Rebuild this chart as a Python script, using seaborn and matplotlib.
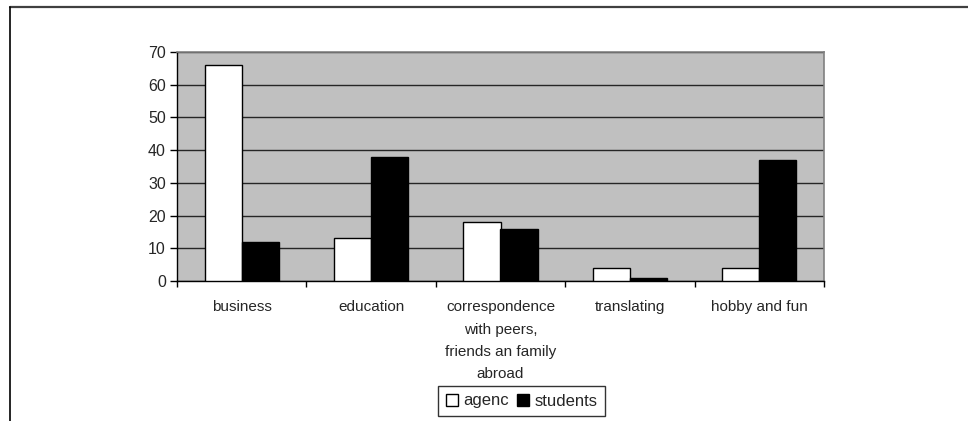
import matplotlib
matplotlib.use("Agg")
import matplotlib.pyplot as plt
import seaborn as sns
import pandas as pd
from matplotlib.lines import Line2D
from matplotlib.patches import Patch

categories = ["business", "education",
              "correspondence\nwith peers,\nfriends an family\nabroad",
              "translating", "hobby and fun"]
agenc = [66, 13, 18, 4, 4]
students = [12, 38, 16, 1, 37]
series_names = ["agenc", "students"]
y_ticks = [0, 10, 20, 30, 40, 50, 60, 70]

df = pd.DataFrame({
    "category": categories * 2,
    "value": agenc + students,
    "series": [series_names[0]] * len(categories) + [series_names[1]] * len(categories),
})

sns.set_theme(style="white")
plt.rcParams["font.family"] = ["Liberation Sans", "DejaVu Sans"]
FS = 11

fig = plt.figure(figsize=(9.68, 4.21), dpi=100)
ax = fig.add_axes([177 / 968, 1 - 281 / 421, (824 - 177) / 968, (281 - 52) / 421])
ax.set_facecolor("#c0c0c0")

sns.barplot(data=df, x="category", y="value", hue="series", order=categories,
            hue_order=series_names, palette=["white", "black"], width=0.572,
            edgecolor="black", linewidth=1.0, saturation=1, ax=ax, legend=False,
            zorder=3)

ax.set_xlim(-0.5, len(categories) - 0.5)
ax.set_ylim(0, 70)
ax.set_yticks(y_ticks)
ax.set_yticklabels([str(v) for v in y_ticks], fontsize=FS + 0.5)
ax.yaxis.grid(True, color="#262626", linewidth=1.0, zorder=1)
ax.set_axisbelow(True)

# category boundary ticks, labels centred on each group
ax.set_xticks([i - 0.5 for i in range(len(categories) + 1)])
ax.set_xticklabels([])
ax.set_xticks(range(len(categories)), minor=True)
ax.set_xticklabels(categories, minor=True, fontsize=FS, linespacing=1.75, va="top")
ax.tick_params(axis="x", which="major", direction="out", length=4, width=1, color="black", bottom=True)
ax.tick_params(axis="x", which="minor", length=0, pad=14)
ax.tick_params(axis="y", direction="out", length=5, width=1, color="black", pad=3, left=True)
ax.set_xlabel("")
ax.set_ylabel("")

for side in ("top", "right"):
    ax.spines[side].set_color("#808080")
    ax.spines[side].set_linewidth(1.2)
for side in ("left", "bottom"):
    ax.spines[side].set_color("black")
    ax.spines[side].set_linewidth(1.0)

handles = [Patch(facecolor="white", edgecolor="black", linewidth=1.0),
           Patch(facecolor="black", edgecolor="black", linewidth=1.0)]
leg = fig.legend(handles, series_names, loc="upper left",
                 bbox_to_anchor=(438 / 968, 1 - 386 / 421),
                 ncol=2, frameon=True, fontsize=12, fancybox=False,
                 handlelength=0.75, handleheight=0.75, handletextpad=0.3,
                 columnspacing=0.5, borderpad=0.45, borderaxespad=0)
leg.get_frame().set_edgecolor("black")
leg.get_frame().set_linewidth(1.0)

# outer chart frame
fig.add_artist(Line2D([10 / 968, 1.0], [1 - 7 / 421, 1 - 7 / 421],
                      transform=fig.transFigure, color="#404040", linewidth=1.6))
fig.add_artist(Line2D([10 / 968, 10 / 968], [0, 1 - 7 / 421],
                      transform=fig.transFigure, color="black", linewidth=1.2))

fig.savefig("out.png", dpi=100, facecolor="white")
